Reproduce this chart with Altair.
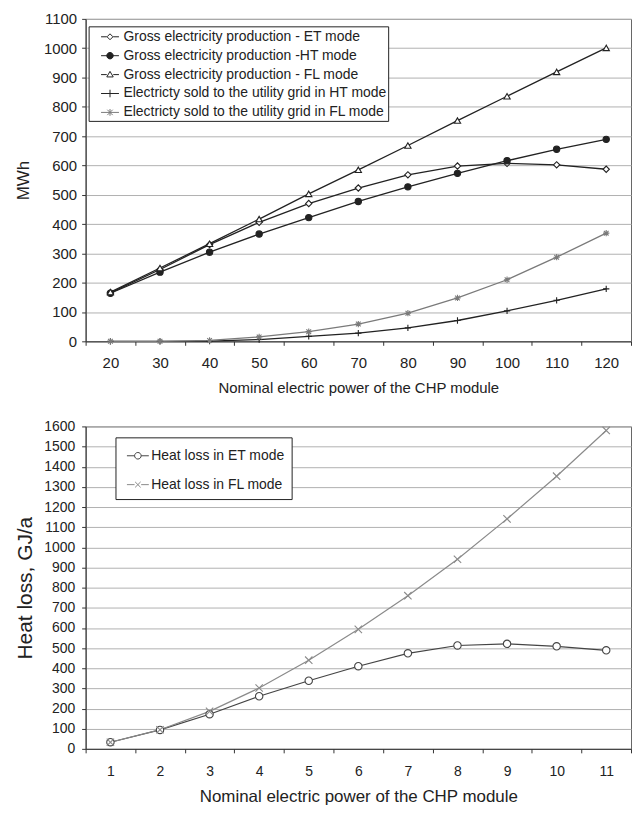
import altair as alt
import pandas as pd

FONT = "Liberation Sans"

# ---------------- top chart data ----------------
power_top = [20, 30, 40, 50, 60, 70, 80, 90, 100, 110, 120]
gross_et = [165, 245, 330, 406, 470, 523, 568, 598, 607, 602, 587]
gross_ht = [164, 236, 304, 366, 422, 477, 527, 573, 616, 655, 689]
gross_fl = [168, 250, 333, 417, 503, 585, 668, 753, 836, 919, 1001]
sold_ht = [0, 0, 1, 6, 17, 28, 46, 71, 104, 140, 179]
sold_fl = [0, 0, 3, 15, 33, 59, 96, 148, 210, 287, 369]

series_top = [
    "Gross electricity production - ET mode",
    "Gross electricity production -HT mode",
    "Gross electricity production - FL mode",
    "Electricty sold to the utility grid in HT mode",
    "Electricty sold to the utility grid in FL mode",
]
top_values = [gross_et, gross_ht, gross_fl, sold_ht, sold_fl]
top_colors = ["#222222", "#222222", "#222222", "#222222", "#7a7a7a"]
top_fills = ["#ffffff", "#222222", "#ffffff", "#ffffff", "#ffffff"]

# ---------------- bottom chart data ----------------
power_bottom = [1, 2, 3, 4, 5, 6, 7, 8, 9, 10, 11]
heat_et = [33, 94, 172, 261, 338, 410, 474, 513, 521, 509, 489]
heat_fl = [33, 95, 186, 302, 440, 593, 760, 941, 1141, 1353, 1580]
series_bottom = ["Heat loss in ET mode", "Heat loss in FL mode"]
bottom_values = [heat_et, heat_fl]
bottom_colors = ["#444444", "#8a8a8a"]
bottom_fills = ["#ffffff", "#ffffff"]

# marker shapes (plot)
DIAMOND = "diamond"
TRIANGLE = "triangle-up"
PLUS = "M-1,0H1M0,-1V1"
ASTER = "M-1,0H1M0,-1V1M-0.75,-0.75L0.75,0.75M-0.75,0.75L0.75,-0.75"
XMARK = "M-1,-1L1,1M-1,1L1,-1"

top_shapes = [DIAMOND, "circle", TRIANGLE, PLUS, ASTER]
bottom_shapes = ["circle", XMARK]

# legend symbols: short line with marker in the middle
L = "M-1,0H-0.36M0.36,0H1"
leg_top_shapes = [
    L + "M0,-0.33L0.33,0L0,0.33L-0.33,0Z",
    "M-1,0H1M-0.36,0A0.36,0.36 0 1,0 0.36,0A0.36,0.36 0 1,0 -0.36,0Z",
    L + "M0,-0.36L0.36,0.26L-0.36,0.26Z",
    "M-1,0H1M0,-0.42V0.42",
    "M-1,0H1M0,-0.38V0.38M-0.3,-0.3L0.3,0.3M-0.3,0.3L0.3,-0.3",
]
leg_bottom_shapes = [
    "M-1,0H-0.3M0.3,0H1M-0.3,0A0.3,0.3 0 1,0 0.3,0A0.3,0.3 0 1,0 -0.3,0Z",
    "M-1,0H-0.3M0.3,0H1M-0.25,-0.25L0.25,0.25M-0.25,0.25L0.25,-0.25",
]


def long_df(xs, names, values):
    rows = []
    for name, vals in zip(names, values):
        for xv, yv in zip(xs, vals):
            rows.append({"power": xv, "value": yv, "series": name})
    return pd.DataFrame(rows)


def build(xs, names, values, colors, fills, shapes, leg_shapes, width, height,
          ymax, y_title, y_label_size, y_title_size, y_title_pad, y_label_pad,
          x_label_size, x_label_pad, x_title_size, x_title_pad,
          marker_size, leg_size, leg_x, leg_y, leg_pad, leg_sym_off,
          leg_label_off, leg_font, leg_row_pad, leg_spaces, line_w):
    df = long_df(xs, names, values)
    xenc = alt.X(
        "power:O",
        bandPosition=0.5,
        scale=alt.Scale(type="band", paddingInner=0, paddingOuter=0, domain=xs),
        axis=alt.Axis(
            title="Nominal electric power of the CHP module",
            tickBand="extent",
            labelAngle=0,
            grid=False,
            labelFontSize=x_label_size,
            labelPadding=x_label_pad,
            titleFontSize=x_title_size,
            titlePadding=x_title_pad,
            tickSize=4,
        ),
    )
    yenc = alt.Y(
        "value:Q",
        scale=alt.Scale(domain=[0, ymax], nice=False),
        axis=alt.Axis(
            title=y_title,
            values=list(range(0, ymax + 1, 100)),
            format="d",
            grid=True,
            labelFontSize=y_label_size,
            labelPadding=y_label_pad,
            titleFontSize=y_title_size,
            titlePadding=y_title_pad,
            tickSize=4,
        ),
    )
    lines = alt.Chart(df).mark_line(strokeWidth=line_w).encode(
        x=xenc,
        y=yenc,
        color=alt.Color("series:N", scale=alt.Scale(domain=names, range=colors), legend=None),
    )
    points = alt.Chart(df).mark_point(size=marker_size, strokeWidth=1.1, opacity=1).encode(
        x=xenc,
        y=yenc,
        shape=alt.Shape("series:N", scale=alt.Scale(domain=names, range=shapes), legend=None),
        stroke=alt.Stroke("series:N", scale=alt.Scale(domain=names, range=colors), legend=None),
        fill=alt.Fill("series:N", scale=alt.Scale(domain=names, range=fills), legend=None),
    )
    leg = alt.Legend(
        title=None,
        orient="none",
        legendX=leg_x,
        legendY=leg_y,
        fillColor="white",
        strokeColor="#222222",
        padding=leg_pad,
        symbolOffset=leg_sym_off,
        labelOffset=leg_label_off,
        labelFontSize=leg_font,
        labelFont=FONT,
        labelColor="#222222",
        rowPadding=leg_row_pad,
        symbolSize=leg_size,
        symbolStrokeWidth=1,
        labelLimit=500,
        labelExpr="datum.label + '" + (" " * leg_spaces) + "'",
    )
    legend_layer = alt.Chart(df).mark_point(opacity=1).encode(
        x=xenc,
        y=yenc,
        shape=alt.Shape("series:N", scale=alt.Scale(domain=names, range=leg_shapes), legend=leg),
        stroke=alt.Stroke("series:N", scale=alt.Scale(domain=names, range=colors), legend=leg),
        fill=alt.Fill("series:N", scale=alt.Scale(domain=names, range=fills), legend=leg),
    ).transform_filter("false")
    return alt.layer(lines, points, legend_layer).resolve_scale(
        color="independent", shape="independent", stroke="independent", fill="independent"
    ).properties(width=width, height=height)


top = build(power_top, series_top, top_values, top_colors, top_fills, top_shapes,
            leg_top_shapes, 548, 324, 1100, "MWh", 15, 17, 11.5, 5,
            15, 10, 15, 10, 40, 324, 3, 7.5, 1, 11, 4, 14, 2, 3, 1.3)

bottom = build(power_bottom, series_bottom, bottom_values, bottom_colors, bottom_fills,
               bottom_shapes, leg_bottom_shapes, 548, 324, 1600, "Heat loss, GJ/a",
               14, 21, 8, 7, 14, 11.5, 17, 10.5, 55, 484, 30, 11, 7, 4, 2, 14, 10, 2, 1.2)

res = dict(color="independent", shape="independent", stroke="independent", fill="independent")

chart = alt.vconcat(
    top,
    bottom,
    spacing=22.5,
).resolve_scale(**res).properties(
    padding={"left": 5, "top": 1, "right": 0, "bottom": 0}
).configure(
    font=FONT
).configure_view(
    stroke="#666666", strokeWidth=1
).configure_axis(
    labelFont=FONT,
    titleFont=FONT,
    labelColor="#222222",
    titleColor="#222222",
    titleFontWeight="normal",
    domainColor="#333333",
    tickColor="#333333",
    gridColor="#b0b0b0",
    gridWidth=1,
)

chart.save("out.html", embed_options={"renderer": "svg", "actions": False})
